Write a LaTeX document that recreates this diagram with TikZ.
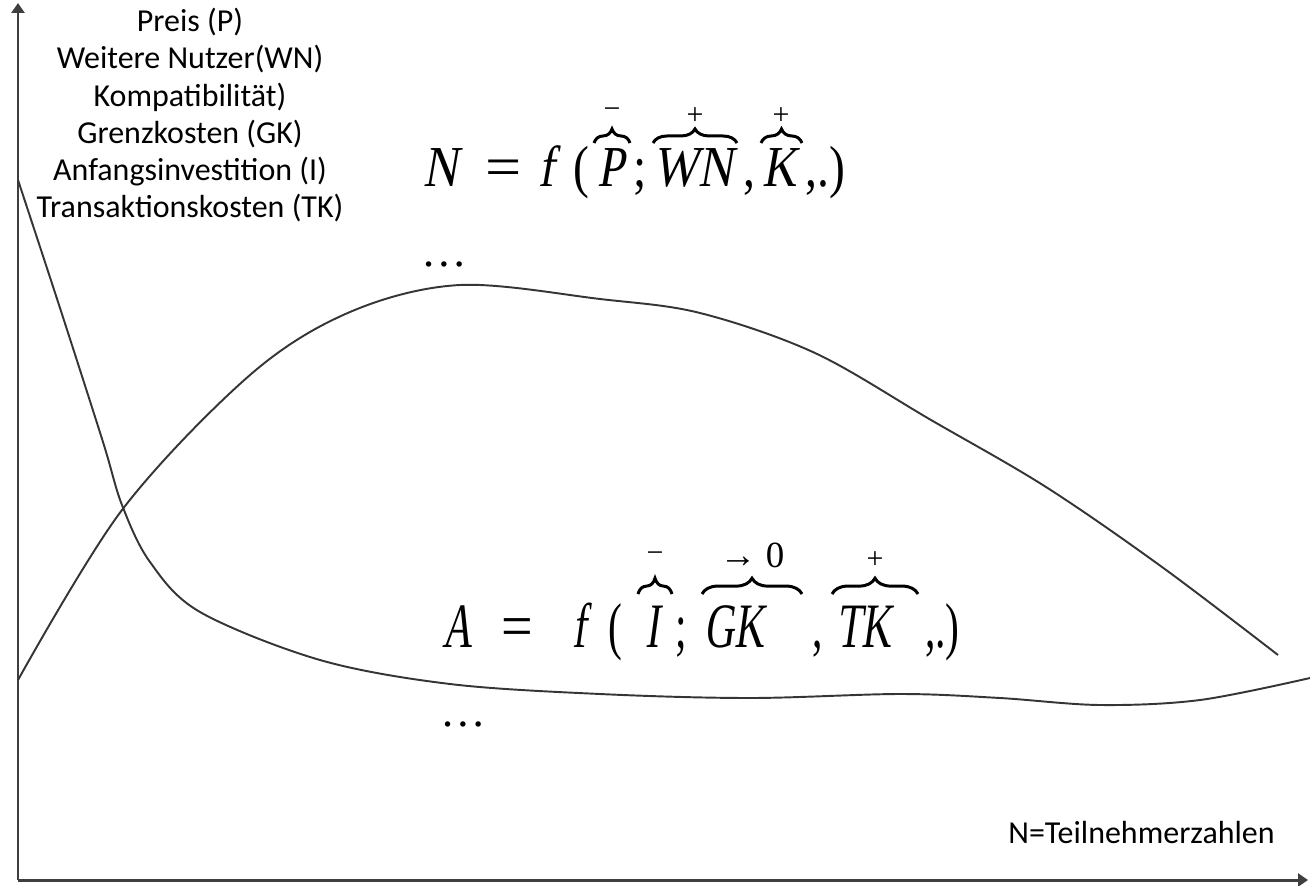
\documentclass[tikz,border=0pt]{standalone}
\usepackage{fontspec}
\setmainfont{Carlito}
\newfontfamily\tnr{Liberation Serif}
\newfontface\tnrkursiv[FakeSlant=0.21]{Liberation Serif}
\usetikzlibrary{arrows.meta,decorations.pathreplacing}
\definecolor{achse}{HTML}{3F3F3F}
\definecolor{kurve}{HTML}{353535}
\tikzset{
 achsenpfeil/.style={achse,line width=1.7pt,-{Triangle[length=0.2cm,width=0.26cm]}},
 kurvenlinie/.style={kurve,line width=1.1pt},
 glied/.style={inner sep=0pt,anchor=base west,font=\tnr\fontsize{33}{36}\selectfont,xscale=0.82},
 gliedgross/.style={glied,font=\tnr\fontsize{36}{40}\selectfont,xscale=0.8},
 klammerbogen/.style={decorate,decoration={brace,amplitude=8pt},line width=1.7pt},
 zeichen/.style={inner sep=0pt,font=\tnr\fontsize{17}{17}\selectfont},
 punkte/.style={inner sep=0pt,anchor=base west,font=\tnr\fontsize{26}{30}\selectfont},
 beschriftung/.style={inner sep=0pt,font=\fontsize{18.2}{21.2}\selectfont},
}
\begin{document}
\begin{tikzpicture}[x=0.02cm,y=-0.02cm]
\useasboundingbox (0,0) rectangle (1310,885);
% axes
\draw[achsenpfeil] (18,880) -- (1308,880);
\draw[achsenpfeil] (18,880) -- (18,3);
% curves
\draw[kurvenlinie] plot[smooth,tension=0.55] coordinates {(18,180) (60,308) (103,442) (122,505) (150,562) (200,612) (320,660) (450,684) (600,694) (750,698) (900,694) (1000,698) (1100,705) (1200,700) (1310,678)};
\draw[kurvenlinie] plot[smooth,tension=0.55] coordinates {(18,680) (122,510) (250,375) (350,312) (460,285) (600,299) (700,313) (815,353) (931,420) (1046,487) (1162,567) (1278,655)};
% labels
\node[beschriftung,align=center,anchor=north] (faktoren) at (190,8)
 {Preis (P)\\Weitere Nutzer(WN)\\Kompatibilität)\\Grenzkosten (GK)\\Anfangsinvestition (I)\\Transaktionskosten (TK)};
\node[beschriftung,anchor=base west] (xlabel) at (1008,843) {N=Teilnehmerzahlen};
% N = f(...)
\node[glied] (nN) at (423,187) {\tnrkursiv N};
\node[glied,xscale=1.35] (nGl) at (485,187) {=};
\node[glied] (nF) at (538,187) {\tnrkursiv f};
\node[glied] (nAuf) at (573,187) {(};
\node[glied] (nP) at (597,187) {\tnrkursiv P};
\node[glied] (nSem) at (633,187) {;};
\node[glied] (nWN) at (653,187) {\tnrkursiv WN};
\node[glied] (nKo) at (743,187) {,};
\node[glied] (nK) at (762,187) {\tnrkursiv K};
\node[glied] (nZu) at (805,187) {,.)};
\draw[klammerbogen] (594,143) -- (630,143);
\draw[klammerbogen] (653,143) -- (737,143);
\draw[klammerbogen] (761,143) -- (802,143);
\node[zeichen] (zP) at (612,113) {−};
\node[zeichen] (zWN) at (695,116) {+};
\node[zeichen] (zK) at (781,116) {+};
\node[punkte] (npunkte) at (421,266) {…};
% A = f(...)
\node[gliedgross] (aA) at (442,647) {\tnrkursiv A};
\node[gliedgross,xscale=1.35] (aGl) at (501,647) {=};
\node[gliedgross] (aF) at (572,647) {\tnrkursiv f};
\node[gliedgross] (aAuf) at (608,647) {(};
\node[gliedgross] (aI) at (645,647) {\tnrkursiv I};
\node[gliedgross] (aSem) at (675,647) {;};
\node[gliedgross] (aGK) at (704,647) {\tnrkursiv GK};
\node[gliedgross] (aKo) at (812,647) {,};
\node[gliedgross] (aTK) at (836,647) {\tnrkursiv TK};
\node[gliedgross] (aZu) at (925,647) {,.)};
\draw[klammerbogen,decoration={brace,amplitude=9pt}] (638,594) -- (672,594);
\draw[klammerbogen,decoration={brace,amplitude=9pt}] (702,594) -- (802,594);
\draw[klammerbogen,decoration={brace,amplitude=9pt}] (832,594) -- (918,594);
\node[zeichen] (zI) at (655,557) {−};
\node[zeichen,font=\tnr\fontsize{21}{21}\selectfont] (zGK) at (752,555) {→\hspace{0.25em}0};
\node[zeichen] (zTK) at (875,560) {+};
\node[punkte] (apunkte) at (440,726) {…};
\end{tikzpicture}
\end{document}
